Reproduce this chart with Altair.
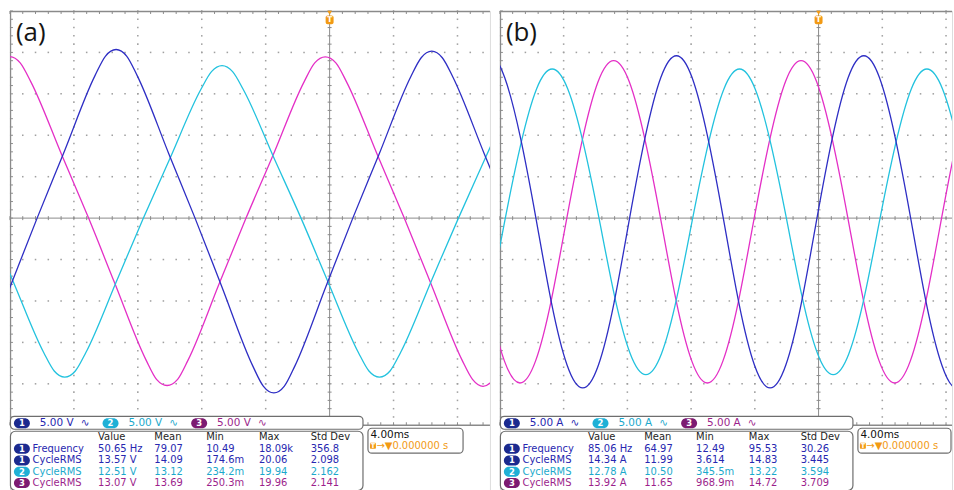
import altair as alt
import pandas as pd

# ---------------- traces: time in ms (trigger at 0), amplitude in V / A ----------------
# (a) phase voltages, 5 V/div
a1_t = [-23.24, -22.58, -21.92, -19.95, -18.30, -16.65, -14.68, -14.02, -13.36, -12.70, -12.04,
        -10.07, -8.42, -6.78, -4.81, -4.15, -3.49, -2.83, -2.17, -0.20, 1.45, 3.10, 5.07, 5.73,
        6.39, 7.05, 7.71, 9.68, 11.33]
a1_v = [-21.1, -20.28, -17.83, -8.10, 0.0, 7.81, 17.20, 19.56, 20.35, 19.56, 17.20, 7.81, 0.0,
        -8.10, -17.83, -20.28, -21.1, -20.28, -17.83, -8.10, 0.0, 7.74, 17.03, 19.36, 20.15,
        19.36, 17.03, 7.74, 0.0]
a2_t = [-21.51, -19.86, -17.89, -17.23, -16.57, -15.91, -15.25, -13.28, -11.65, -10.02, -8.05,
        -7.39, -6.73, -6.07, -5.41, -3.44, -1.79, -0.17, 1.80, 2.46, 3.12, 3.78, 4.44, 6.41,
        8.06, 9.70, 11.67]
a2_v = [0.0, -7.37, -16.22, -18.45, -19.2, -18.45, -16.22, -7.37, 0.0, 7.07, 15.55, 17.68, 18.4,
        17.68, 15.55, 7.07, 0.0, -7.37, -16.22, -18.45, -19.2, -18.45, -16.22, -7.37, 0.0, 7.07,
        15.55]
a3_t = [-23.31, -21.34, -20.68, -20.02, -19.36, -18.70, -16.73, -15.08, -13.46, -11.49, -10.83,
        -10.17, -9.51, -8.85, -6.88, -5.23, -3.56, -1.59, -0.93, -0.27, 0.39, 1.05, 3.02, 4.67,
        6.31, 8.28, 8.94, 9.60, 10.26, 10.92]
a3_v = [7.49, 16.48, 18.74, 19.5, 18.74, 16.48, 7.49, 0.0, -7.78, -17.11, -19.46, -20.2, -19.46,
        -17.11, -7.78, 0.0, 7.49, 16.48, 18.74, 19.45, 18.74, 16.48, 7.49, 0.0, -7.78, -17.11,
        -19.46, -20.3, -19.46, -17.11]

# (b) phase currents, 5 A/div
b1_t = [-21.66, -20.68, -19.70, -18.72, -17.74, -16.76, -15.78, -14.80, -13.82, -12.84, -11.86,
        -10.88, -9.90, -8.92, -7.94, -6.96, -5.98, -5.00, -4.02, -3.04, -2.06, -1.08, -0.10,
        0.88, 1.86, 2.84, 3.82, 4.80, 5.78, 6.76, 7.74, 8.72, 9.70]
b1_v = [16.97, 19.6, 16.97, 9.8, 0.0, -10.25, -17.75, -20.5, -17.75, -10.25, 0.0, 9.8, 16.97,
        19.6, 16.97, 9.8, 0.0, -10.25, -17.75, -20.5, -17.75, -10.25, 0.0, 9.8, 16.97, 19.6,
        16.97, 9.8, 0.0, -10.25, -17.75, -20.5, -17.75]
b2_t = [-21.62, -20.64, -19.66, -18.68, -17.70, -16.72, -15.74, -14.76, -13.78, -12.80, -11.82,
        -10.84, -9.86, -8.88, -7.90, -6.92, -5.94, -4.96, -3.98, -3.00, -2.02, -1.04, -0.06,
        0.92, 1.90, 2.88, 3.86, 4.84, 5.82, 6.80, 7.78, 8.76, 9.74]
b2_v = [-16.37, -9.45, 0.0, 9.0, 15.59, 18.0, 15.59, 9.0, 0.0, -9.45, -16.37, -18.9, -16.37,
        -9.45, 0.0, 9.0, 15.59, 18.0, 15.59, 9.0, 0.0, -9.45, -16.37, -18.9, -16.37, -9.45, 0.0,
        9.0, 15.59, 18.0, 15.59, 9.0, 0.0]
b3_t = [-21.68, -20.70, -19.72, -18.74, -17.76, -16.78, -15.80, -14.82, -13.84, -12.86, -11.88,
        -10.90, -9.92, -8.94, -7.96, -6.98, -6.00, -5.02, -4.04, -3.06, -2.08, -1.10, -0.12,
        0.86, 1.84, 2.82, 3.80, 4.78, 5.76, 6.74, 7.72, 8.70, 9.68]
b3_v = [0.0, -9.95, -17.23, -19.9, -17.23, -9.95, 0.0, 9.5, 16.45, 19.0, 16.45, 9.5, 0.0, -9.95,
        -17.23, -19.9, -17.23, -9.95, 0.0, 9.5, 16.45, 19.0, 16.45, 9.5, 0.0, -9.95, -17.23,
        -19.9, -17.23, -9.95, 0.0, 9.5, 16.45]

# ---------------- readouts ----------------
channels = ["1", "2", "3"]
scale_a = ["5.00 V", "5.00 V", "5.00 V"]
scale_b = ["5.00 A", "5.00 A", "5.00 A"]
header = ["Value", "Mean", "Min", "Max", "Std Dev"]
meas_ch = ["1", "1", "2", "3"]
meas_name = ["Frequency", "CycleRMS", "CycleRMS", "CycleRMS"]
meas_a = [
    ["50.65 Hz", "79.07", "10.49", "18.09k", "356.8"],
    ["13.57 V", "14.09", "174.6m", "20.06", "2.098"],
    ["12.51 V", "13.12", "234.2m", "19.94", "2.162"],
    ["13.07 V", "13.69", "250.3m", "19.96", "2.141"],
]
meas_b = [
    ["85.06 Hz", "64.97", "12.49", "95.53", "30.26"],
    ["14.34 A", "11.99", "3.614", "14.83", "3.445"],
    ["12.78 A", "10.50", "345.5m", "13.22", "3.594"],
    ["13.92 A", "11.65", "968.9m", "14.72", "3.709"],
]
timebase = "4.00ms"
trig_delay = "\u2192\u25bc0.000000 s"

# ---------------- styling / screen geometry ----------------
H = 482            # graticule + readout height in px
V_PX = 8.32        # px per volt (41.6 px per 5 V division)
TRACE = {"1": "#2e2ec4", "2": "#22c2de", "3": "#e42fc6"}
TEXT = {"1": "#2727b0", "2": "#1ba9cc", "3": "#9c1f8c"}
BADGE = {"1": "#1b2a8f", "2": "#1fb0d6", "3": "#7d1b72"}
ORANGE = "#f29a14"
DOT = "#a0a0a0"
FRAME = "#8a8a8a"
BOX = "#6e6e6e"
FONT = "DejaVu Sans"
COLS = [88.5, 145, 197, 250, 302]
ROW_Y = [439.7, 451.3, 462.7, 474.0]


def build_panel(tag, traces, interp, scales, meas, width, ms_px):
    t_end = -20 + width / ms_px
    xs = alt.Scale(domain=[-20, t_end], nice=False, zero=False)
    ys = alt.Scale(domain=[25 - H / V_PX, 25], nice=False, zero=False)
    X = alt.X("t:Q", scale=xs, axis=None)
    Y = alt.Y("v:Q", scale=ys, axis=None)

    def px_t(px):
        return -20 + px / ms_px

    def px_v(py):
        return 25 - py / V_PX

    def rules(segs, color, w):
        df = pd.DataFrame(segs, columns=["t", "t2", "v", "v2"])
        return alt.Chart(df).mark_rule(color=color, strokeWidth=w).encode(
            x=X, x2="t2:Q", y=Y, y2="v2:Q")

    def rects(boxes, fill, stroke=None, r=0, sw=1.0):
        df = pd.DataFrame([(px_t(a), px_t(b), px_v(c), px_v(d)) for a, b, c, d in boxes],
                          columns=["t", "t2", "v", "v2"])
        kw = dict(fill=fill, cornerRadius=r)
        if stroke:
            kw.update(stroke=stroke, strokeWidth=sw)
        return alt.Chart(df).mark_rect(**kw).encode(x=X, x2="t2:Q", y=Y, y2="v2:Q")

    def texts(items, color, size, align="left", weight="normal", font=FONT):
        df = pd.DataFrame([(px_t(x), px_v(y), s) for x, y, s in items],
                          columns=["t", "v", "label"])
        return alt.Chart(df).mark_text(align=align, baseline="middle", font=font,
                                       fontSize=size, fontWeight=weight, color=color).encode(
            x=X, y=Y, text="label:N")

    layers = []

    # dotted graticule
    minor_t = [-20 + 0.8 * j for j in range(int((t_end + 20) / 0.8) + 1)]
    dots = [(4.0 * k, float(j)) for k in (-4, -3, -2, -1, 1, 2) if 4 * k < t_end
            for j in range(-25, 26)]
    dots += [(tj, float(m)) for tj in minor_t[1:] for m in (-20, -15, -10, -5, 5, 10, 15, 20)]
    layers.append(alt.Chart(pd.DataFrame(dots, columns=["t", "v"])).mark_square(
        size=2.4, color=DOT, opacity=1).encode(x=X, y=Y))

    # centre cross and frame
    dt, dv = 1.0 / ms_px, 1.0 / V_PX
    layers.append(rules([(-20, t_end, 0, 0), (0, 0, -25, 25)], FRAME, 1))
    ticks = [(tj, tj, -2 * dv, 2 * dv) for tj in minor_t]
    ticks += [(-2 * dt, 2 * dt, float(j), float(j)) for j in range(-25, 26)]
    ticks += [(tj, tj, 25, 25 - 3 * dv) for tj in minor_t]
    ticks += [(tj, tj, -25, -25 + 3 * dv) for tj in minor_t]
    ticks += [(-20, -20 + 3 * dt, float(j), float(j)) for j in range(-25, 26)]
    layers.append(rules(ticks, FRAME, 1))
    layers.append(rules([(-20, t_end, 25 - 0.5 * dv, 25 - 0.5 * dv),
                         (-20, t_end, -25, -25),
                         (-20 + 0.6 * dt, -20 + 0.6 * dt, -25, 25)], FRAME, 1.3))

    # waveforms
    for t, v, ch in traces:
        layers.append(alt.Chart(pd.DataFrame({"t": t, "v": v})).mark_line(
            clip=True, strokeWidth=1.3, interpolate=interp, color=TRACE[ch]).encode(
            x=X, y=Y, order="t:Q"))

    # trigger position marker at t = 0
    trig_px = 20 * ms_px
    layers.append(alt.Chart(pd.DataFrame({"t": [0.0], "v": [px_v(1.8)]})).mark_point(
        shape="triangle-down", filled=True, size=22, color=ORANGE, opacity=1).encode(x=X, y=Y))
    layers.append(rects([(trig_px - 4, trig_px + 4, 4.5, 13.3)], ORANGE, r=2))
    layers.append(texts([(trig_px, 9.0, "T")], "white", 8, align="center", weight="bold"))

    # panel tag
    layers.append(texts([(6, 22.5, tag)], "#151515", 26, font="Open Sans"))

    # channel scale strip
    layers.append(rects([(0.5, 354.5, 407, 420)], "white", BOX, r=4, sw=1.2))
    for k, ch in enumerate(channels):
        off = 89 * k
        layers.append(rects([(4 + off, 20 + off, 409, 419)], BADGE[ch], r=5))
        layers.append(texts([(12 + off, 414, ch)], "white", 8.5, align="center", weight="bold"))
        layers.append(texts([(30 + off, 413.5, scales[k]), (71 + off, 413.5, "\u223f")],
                            TEXT[ch], 10.5))

    # measurement table
    layers.append(rects([(0.5, 354.5, 422, 481.5)], "white", BOX, r=5, sw=1.2))
    layers.append(texts([(COLS[i], 428, h) for i, h in enumerate(header)], "#1e1e1e", 10))
    for r, ch in enumerate(meas_ch):
        y = ROW_Y[r]
        layers.append(rects([(4, 20, y - 5, y + 5)], BADGE[ch], r=5))
        layers.append(texts([(12, y, ch)], "white", 8.5, align="center", weight="bold"))
        row = [(22.7, y, meas_name[r])] + [(COLS[i], y, s) for i, s in enumerate(meas[r])]
        layers.append(texts(row, TEXT[ch], 10))

    # timebase / trigger readout
    right = min(455, width - 1)
    layers.append(rects([(359.5, right, 419, 444)], "white", BOX, r=4, sw=1.2))
    layers.append(texts([(362, 426, timebase)], "#111111", 10.5))
    layers.append(rects([(361.5, 367.5, 433.5, 439.5)], ORANGE, r=1))
    layers.append(texts([(364.5, 436.6, "T")], "white", 6.5, align="center", weight="bold"))
    layers.append(texts([(368, 436.5, trig_delay)], ORANGE, 10))

    return alt.layer(*layers).properties(width=width, height=H)


panel_a = build_panel("(a)", [(a3_t, a3_v, "3"), (a2_t, a2_v, "2"), (a1_t, a1_v, "1")],
                      "monotone", scale_a, meas_a, 482, 16.05)
panel_b = build_panel("(b)", [(b3_t, b3_v, "3"), (b2_t, b2_v, "2"), (b1_t, b1_v, "1")],
                      "natural", scale_b, meas_b, 454, 16.0)

chart = alt.hconcat(panel_a, panel_b, spacing=10, bounds="flush").properties(
    padding={"left": 8, "top": 8, "right": 0, "bottom": 0}
).configure_view(stroke=None).configure(background="white")

chart.save("out.html", embed_options={"renderer": "svg", "actions": False})
